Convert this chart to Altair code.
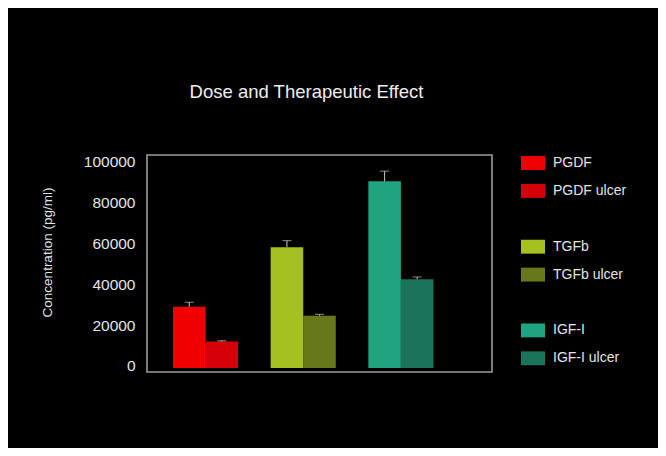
import altair as alt
import pandas as pd

# ---- data ----
groups = ["PGDF", "TGFb", "IGF-I"]
series = ["PGDF", "PGDF ulcer", "TGFb", "TGFb ulcer", "IGF-I", "IGF-I ulcer"]
series_group = ["PGDF", "PGDF", "TGFb", "TGFb", "IGF-I", "IGF-I"]
series_kind = ["dose", "ulcer", "dose", "ulcer", "dose", "ulcer"]
values = [30000, 12900, 59200, 25600, 91500, 43500]
upper = [32200, 13300, 62400, 26300, 96500, 44600]
colors = ["#f00000", "#d60008", "#a5c021", "#67781a", "#1fa47f", "#1a735a"]
y_ticks = [0, 20000, 40000, 60000, 80000, 100000]
legend_domain = ["PGDF", "PGDF ulcer", "gap1", "TGFb", "TGFb ulcer", "gap2", "IGF-I", "IGF-I ulcer"]
legend_range = [colors[0], colors[1], "rgba(0,0,0,0)", colors[2], colors[3],
                "rgba(0,0,0,0)", colors[4], colors[5]]

df = pd.DataFrame({
    "group": series_group,
    "kind": series_kind,
    "series": series,
    "value": values,
    "upper": upper,
})

FONT = "Liberation Sans"
TXT = "#e4e4e4"

x_enc = alt.X("group:N", sort=groups,
              scale=alt.Scale(paddingInner=0, paddingOuter=0.266),
              axis=alt.Axis(labels=False, ticks=False, domain=False, title=None, grid=False))
xo_enc = alt.XOffset("kind:N", scale=alt.Scale(domain=["dose", "ulcer", "pad"], paddingInner=0, paddingOuter=0))
y_scale = alt.Scale(domain=[-2000, 104400], nice=False, zero=False)

bars = alt.Chart(df).mark_bar(strokeWidth=0).encode(
    x=x_enc,
    xOffset=xo_enc,
    y=alt.Y("value:Q", scale=y_scale, stack=None,
            axis=alt.Axis(values=y_ticks, format="d", title="Concentration (pg/ml)",
                          labelFont=FONT, labelFontSize=15.5, labelColor=TXT,
                          labelPadding=12, labelOffset=-2, ticks=False, domain=False, grid=False,
                          titleFont=FONT, titleFontSize=13.5, titleColor=TXT,
                          titleFontWeight="normal", titleAngle=-90,
                          titleX=-100, titleY=97, titleAlign="center", titleBaseline="middle")),
    y2=alt.datum(0),
    color=alt.Color("series:N",
                    scale=alt.Scale(domain=legend_domain, range=legend_range),
                    legend=alt.Legend(orient="none", legendX=374, legendY=-4, title=None,
                                      symbolType="M-1,-0.58L1,-0.58L1,0.58L-1,0.58Z",
                                      symbolSize=576, symbolStrokeWidth=0, symbolOpacity=1,
                                      rowPadding=8.9, labelOffset=8, padding=0,
                                      labelFont=FONT, labelFontSize=14, labelColor=TXT,
                                      labelExpr="indexof(datum.label, 'gap') == 0 ? '' : datum.label")),
)

err = alt.Chart(df).mark_rule(color="#c8c8c8", strokeWidth=1).encode(
    x=x_enc, xOffset=xo_enc,
    y=alt.Y("value:Q", scale=y_scale),
    y2="upper:Q",
)

caps = alt.Chart(df).mark_tick(color="#c8c8c8", thickness=1, size=9).encode(
    x=x_enc, xOffset=xo_enc,
    y=alt.Y("upper:Q", scale=y_scale),
)

chart = alt.layer(bars, err, caps).properties(
    width=345, height=217,
    autosize=alt.AutoSizeParams(type="none"),
    padding={"left": 139, "top": 147, "right": 166, "bottom": 76},
    background="#000000",
    title=alt.TitleParams("Dose and Therapeutic Effect", font=FONT, fontSize=18.5,
                          fontWeight="normal", color="#eeeeee", anchor="middle",
                          frame="group", dx=-13, offset=35, baseline="alphabetic"),
).configure_view(stroke="#9c9c9c", strokeWidth=1.6)

chart.save("out.html", embed_options={"renderer": "svg", "actions": False})
